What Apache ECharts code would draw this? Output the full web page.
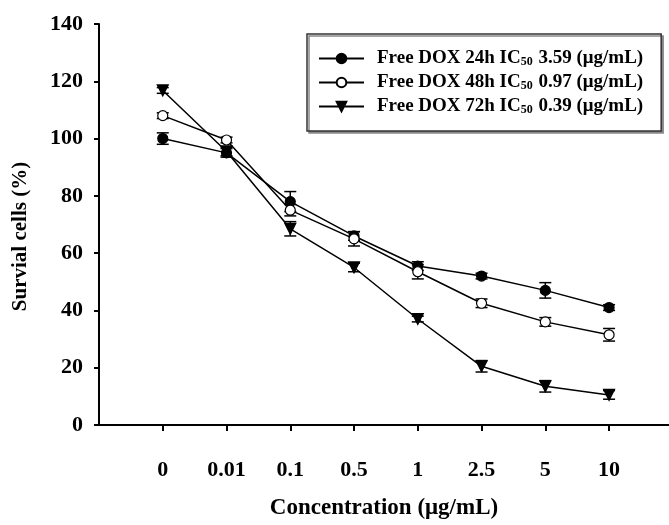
<!DOCTYPE html>
<html>
<head>
<meta charset="utf-8">
<script src="https://cdn.jsdelivr.net/npm/echarts@6/dist/echarts.min.js"></script>
<style>
  html, body { margin: 0; padding: 0; background: #fff; }
  #chart { width: 669px; height: 525px; }
</style>
</head>
<body>
<div id="chart"></div>
<script>
// concentration categories (μg/mL)
var concLabels = ['0', '0.01', '0.1', '0.5', '1', '2.5', '5', '10'];

// survival (%) and error bars
var dox24 = [100, 95, 78, 66, 55.5, 52, 47, 41];
var err24 = [2, 1.5, 3.5, 1.5, 1.5, 1, 2.7, 1];
var dox48 = [108, 99.5, 75, 65, 53.5, 42.5, 36, 31.5];
var err48 = [1, 1, 2, 2.5, 2.5, 1.5, 1.5, 2.2];
var dox72 = [116.8, 95.5, 68.5, 55, 37, 20.5, 13.5, 10.5];
var err72 = [1, 1.5, 2.5, 1.5, 1, 2, 2, 1.5];

var legendNames = [
  'Free DOX 24h IC50 3.59 (μg/mL)',
  'Free DOX 48h IC50 0.97 (μg/mL)',
  'Free DOX 72h IC50 0.39 (μg/mL)'
];

var chart = echarts.init(document.getElementById('chart'));
var font = '"Liberation Serif", "Times New Roman", serif';

function pairs(vals) {
  return vals.map(function (v, i) { return [i, v]; });
}

function errData(vals, errs) {
  return vals.map(function (v, i) { return [i, v - errs[i], v + errs[i]]; });
}

// error bar with caps
function renderErr(params, api) {
  var lo = api.coord([api.value(0), api.value(1)]);
  var hi = api.coord([api.value(0), api.value(2)]);
  var w = 6;
  var st = { stroke: '#000', lineWidth: 1.5 };
  return {
    type: 'group',
    children: [
      { type: 'line', shape: { x1: lo[0], y1: lo[1], x2: hi[0], y2: hi[1] }, style: st },
      { type: 'line', shape: { x1: lo[0] - w, y1: lo[1], x2: lo[0] + w, y2: lo[1] }, style: st },
      { type: 'line', shape: { x1: hi[0] - w, y1: hi[1], x2: hi[0] + w, y2: hi[1] }, style: st }
    ]
  };
}

function errSeries(vals, errs) {
  return {
    type: 'custom',
    renderItem: renderErr,
    data: errData(vals, errs),
    encode: { x: 0, y: [1, 2] },
    silent: true,
    z: 1
  };
}

function lineSeries(name, vals, symbol, rotate, fill, size) {
  return {
    name: name,
    type: 'line',
    data: pairs(vals),
    symbol: symbol,
    symbolSize: size,
    symbolRotate: rotate,
    showAllSymbol: true,
    lineStyle: { color: '#000', width: 1.5 },
    itemStyle: { color: fill, borderColor: '#000', borderWidth: 1.2 },
    z: 3
  };
}

var option = {
  backgroundColor: '#fff',
  animation: false,
  grid: { left: 99, right: 0, top: 24, bottom: 89 },
  legend: {
    left: 307,
    top: 34,
    orient: 'vertical',
    itemWidth: 45,
    itemHeight: 12,
    itemGap: 5,
    padding: [15, 18, 15, 11],
    borderColor: '#333',
    borderWidth: 1.5,
    shadowColor: '#888',
    shadowOffsetX: 2,
    shadowOffsetY: 2,
    backgroundColor: '#fff',
    data: legendNames,
    formatter: function (name) {
      var parts = name.split('IC50');
      return '{f|' + parts[0] + 'IC}{s|50}{a|' + parts[1] + '}';
    },
    textStyle: {
      color: '#000',
      rich: {
        f: { fontFamily: font, fontWeight: 'bold', fontSize: 19, color: '#000', padding: [0, 0, 0, 8] },
        a: { fontFamily: font, fontWeight: 'bold', fontSize: 19, color: '#000' },
        s: { fontFamily: font, fontWeight: 'bold', fontSize: 12, color: '#000', verticalAlign: 'bottom', padding: [6, 1, 0, 0] }
      }
    }
  },
  xAxis: {
    type: 'value',
    min: -1,
    max: 7.94,
    name: 'Concentration (μg/mL)',
    nameLocation: 'middle',
    nameGap: 72,
    nameTextStyle: { fontFamily: font, fontWeight: 'bold', fontSize: 23, color: '#000' },
    splitLine: { show: false },
    axisLine: { onZero: false, lineStyle: { color: '#000', width: 2 } },
    axisTick: { customValues: [0, 1, 2, 3, 4, 5, 6, 7], length: 6, lineStyle: { color: '#000', width: 2 } },
    axisLabel: {
      customValues: [0, 1, 2, 3, 4, 5, 6, 7],
      margin: 34,
      fontFamily: font, fontWeight: 'bold', fontSize: 22, color: '#000',
      formatter: function (v) { return concLabels[Math.round(v)]; }
    }
  },
  yAxis: {
    type: 'value',
    min: 0,
    max: 140,
    interval: 20,
    name: 'Survial cells (%)',
    nameLocation: 'middle',
    nameGap: 68,
    nameTextStyle: { fontFamily: font, fontWeight: 'bold', fontSize: 21, color: '#000', padding: [0, 24, 0, 0] },
    splitLine: { show: false },
    axisLine: { show: true, onZero: false, lineStyle: { color: '#000', width: 2 } },
    axisTick: { show: true, length: 5, lineStyle: { color: '#000', width: 2 } },
    axisLabel: { margin: 16, fontFamily: font, fontWeight: 'bold', fontSize: 22, color: '#000' }
  },
  series: [
    lineSeries(legendNames[0], dox24, 'circle', 0, '#000', 10),
    lineSeries(legendNames[1], dox48, 'circle', 0, '#fff', 10),
    lineSeries(legendNames[2], dox72, 'triangle', 180, '#000', 11),
    errSeries(dox24, err24),
    errSeries(dox48, err48),
    errSeries(dox72, err72)
  ]
};

chart.setOption(option);
</script>
</body>
</html>
